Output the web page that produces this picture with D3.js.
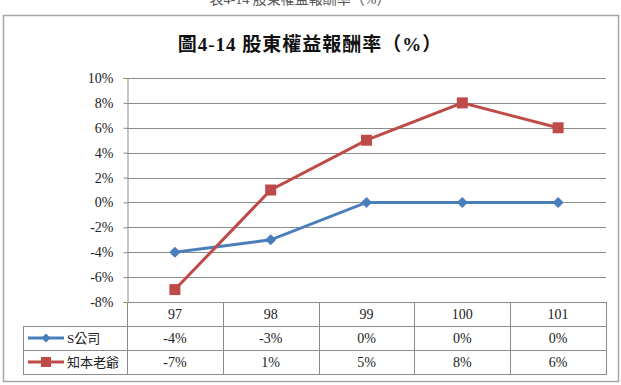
<!DOCTYPE html>
<html>
<head>
<meta charset="utf-8">
<script src="https://cdn.jsdelivr.net/npm/d3@7"></script>
<style>
  body { margin: 0; background: #fff; }
</style>
</head>
<body>
<svg id="chart" width="621" height="385"></svg>
<script>
// data
var years = ["97", "98", "99", "100", "101"];
var seriesNames = ["S公司", "知本老爺"];
var sCompany = [-4, -3, 0, 0, 0];
var zhiben = [-7, 1, 5, 8, 6];
var yTicks = [-8, -6, -4, -2, 0, 2, 4, 6, 8, 10];
var colors = ["#4A7EBB", "#BE4B48"];

var serif = "'Liberation Serif', 'Times New Roman', 'Noto Sans CJK TC', serif";
var svg = d3.select("#chart").attr("font-family", serif);

// partially cut caption on top
svg.append("text")
  .attr("x", 300).attr("y", 4)
  .attr("text-anchor", "middle")
  .attr("font-size", 14)
  .attr("fill", "#555")
  .text("表4-14 股東權益報酬率（%）");

// outer frame
svg.append("rect")
  .attr("x", 3.5).attr("y", 15.5)
  .attr("width", 615).attr("height", 366)
  .attr("fill", "#fff")
  .attr("stroke", "#a6a6a6")
  .attr("stroke-width", 1.5);

// title
svg.append("text")
  .attr("x", 310).attr("y", 51)
  .attr("text-anchor", "middle")
  .attr("font-size", 19)
  .attr("font-weight", "bold")
  .attr("fill", "#111")
  .attr("letter-spacing", 1)
  .text("圖4-14  股東權益報酬率（%）");

var pLeft = 127, pRight = 606, pTop = 78, pBottom = 302;

var x = d3.scaleBand().domain(years).range([pLeft, pRight]);
var y = d3.scaleLinear().domain([-8, 10]).range([pBottom, pTop]);

// gridlines
svg.append("g")
  .selectAll("line")
  .data(yTicks)
  .enter()
  .append("line")
  .attr("x1", pLeft).attr("x2", pRight)
  .attr("y1", function(d){ return Math.round(y(d)) + 0.5; })
  .attr("y2", function(d){ return Math.round(y(d)) + 0.5; })
  .attr("stroke", "#8c8c8c")
  .attr("stroke-width", 1);

// y axis
var yAxis = d3.axisLeft(y)
  .tickValues(yTicks)
  .tickSize(4)
  .tickFormat(function(d){ return d + "%"; });
var ga = svg.append("g")
  .attr("transform", "translate(" + (pLeft + 0.5) + ",0)")
  .call(yAxis)
  .attr("font-family", serif)
  .attr("font-size", 14);
ga.select(".domain").attr("stroke", "#8c8c8c");
ga.selectAll(".tick line").attr("stroke", "#8c8c8c");
ga.selectAll(".tick text")
  .attr("fill", "#222")
  .attr("x", -14);

// data table
var rowH = 24;
var tableTop = pBottom;
var tableLeft = 23;
var tg = svg.append("g").attr("font-size", 14);

tg.append("rect")
  .attr("x", pLeft + 0.5).attr("y", tableTop + 0.5)
  .attr("width", pRight - pLeft).attr("height", rowH * 3)
  .attr("fill", "none").attr("stroke", "#8c8c8c");
tg.append("rect")
  .attr("x", tableLeft + 0.5).attr("y", tableTop + rowH + 0.5)
  .attr("width", pRight - tableLeft).attr("height", rowH * 2)
  .attr("fill", "none").attr("stroke", "#8c8c8c");
tg.append("line")
  .attr("x1", tableLeft).attr("x2", pRight)
  .attr("y1", tableTop + rowH * 2 + 0.5).attr("y2", tableTop + rowH * 2 + 0.5)
  .attr("stroke", "#8c8c8c");
tg.selectAll(".vline")
  .data(years.slice(1))
  .enter()
  .append("line")
  .attr("x1", function(d){ return Math.round(x(d)) + 0.5; })
  .attr("x2", function(d){ return Math.round(x(d)) + 0.5; })
  .attr("y1", tableTop).attr("y2", tableTop + rowH * 3)
  .attr("stroke", "#8c8c8c");

// header labels
tg.selectAll(".hdr")
  .data(years)
  .enter()
  .append("text")
  .attr("x", function(d){ return x(d) + x.bandwidth() / 2; })
  .attr("y", tableTop + 17)
  .attr("text-anchor", "middle")
  .attr("fill", "#222")
  .text(function(d){ return d; });

var diamond = d3.symbol().type(d3.symbolSquare);

var allSeries = [sCompany, zhiben];
allSeries.forEach(function(vals, i) {
  var ry = tableTop + rowH * (i + 1);
  tg.selectAll(".val" + i)
    .data(vals)
    .enter()
    .append("text")
    .attr("x", function(d, j){ return x(years[j]) + x.bandwidth() / 2; })
    .attr("y", ry + 17)
    .attr("text-anchor", "middle")
    .attr("fill", "#222")
    .text(function(d){ return d + "%"; });

  // legend key
  var ly = ry + 12;
  tg.append("line")
    .attr("x1", 28).attr("x2", 64)
    .attr("y1", ly).attr("y2", ly)
    .attr("stroke", colors[i]).attr("stroke-width", 3);
  if (i === 0) {
    tg.append("path")
      .attr("d", diamond.size(40)())
      .attr("transform", "translate(46," + ly + ") rotate(45)")
      .attr("fill", colors[i]);
  } else {
    tg.append("rect")
      .attr("x", 41).attr("y", ly - 5)
      .attr("width", 10).attr("height", 10)
      .attr("fill", colors[i]);
  }
  tg.append("text")
    .attr("x", 67).attr("y", ly + 5)
    .attr("font-size", 13)
    .attr("fill", "#222")
    .text(seriesNames[i]);
});

// lines
var line = d3.line()
  .x(function(d, j){ return x(years[j]) + x.bandwidth() / 2; })
  .y(function(d){ return y(d); });

svg.append("path")
  .datum(sCompany)
  .attr("d", line)
  .attr("fill", "none")
  .attr("stroke", colors[0])
  .attr("stroke-width", 3);

svg.append("path")
  .datum(zhiben)
  .attr("d", line)
  .attr("fill", "none")
  .attr("stroke", colors[1])
  .attr("stroke-width", 3);

// markers
svg.selectAll(".dia")
  .data(sCompany)
  .enter()
  .append("path")
  .attr("d", diamond.size(62)())
  .attr("transform", function(d, j){
    return "translate(" + (x(years[j]) + x.bandwidth() / 2) + "," + y(d) + ") rotate(45)";
  })
  .attr("fill", colors[0]);

svg.selectAll(".sq")
  .data(zhiben)
  .enter()
  .append("rect")
  .attr("x", function(d, j){ return x(years[j]) + x.bandwidth() / 2 - 5.5; })
  .attr("y", function(d){ return y(d) - 5.5; })
  .attr("width", 11).attr("height", 11)
  .attr("fill", colors[1]);
</script>
</body>
</html>
